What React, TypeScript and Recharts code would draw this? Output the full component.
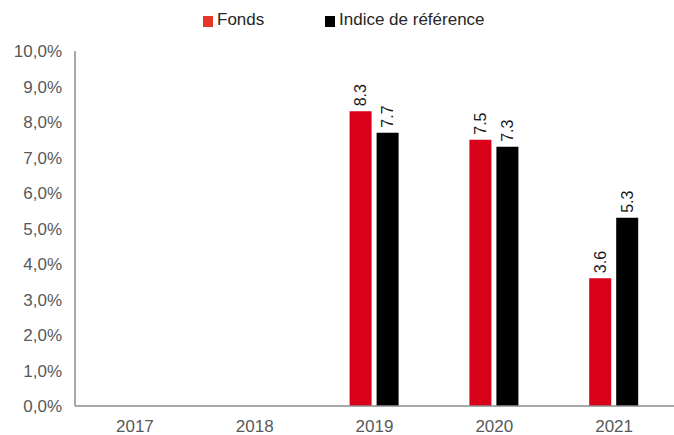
import React from "react";
import { BarChart, Bar, XAxis, YAxis, LabelList } from "recharts";

const years = ["2017", "2018", "2019", "2020", "2021"];
const fonds: (number | null)[] = [null, null, 8.3, 7.5, 3.6];
const indice: (number | null)[] = [null, null, 7.7, 7.3, 5.3];
const yTicks = [0, 1, 2, 3, 4, 5, 6, 7, 8, 9, 10];

const data = years.map((y, i) => ({ year: y, fonds: fonds[i], indice: indice[i] }));

const FONT = "'Liberation Sans', Arial, sans-serif";
const RED = "#d9001a";
const BLACK = "#000000";

const RotLabel = (props: any) => {
  const { x, y, width, value } = props;
  if (value == null) return null;
  const cx = x + width / 2;
  const cy = y - 5;
  return (
    <text
      x={cx}
      y={cy}
      transform={`rotate(-90, ${cx}, ${cy})`}
      textAnchor="start"
      dominantBaseline="central"
      fontFamily={FONT}
      fontSize={16}
      fill="#1a1a1a"
    >
      {Number(value).toFixed(1)}
    </text>
  );
};

const LegendBox = () => (
  <div style={{ position: "absolute", left: 0, top: 8, width: 674, height: 30, fontFamily: FONT, fontSize: 17, color: "#262626" }}>
    <div style={{ position: "absolute", left: 203, top: 8, width: 10, height: 11, background: "#e2372a" }} />
    <div style={{ position: "absolute", left: 217, top: 2, lineHeight: "20px" }}>Fonds</div>
    <div style={{ position: "absolute", left: 325, top: 8, width: 10, height: 11, background: BLACK }} />
    <div style={{ position: "absolute", left: 339, top: 2, lineHeight: "20px" }}>Indice de référence</div>
  </div>
);

export default function App() {
  return (
    <div style={{ position: "absolute", left: 0, top: 0, width: 674, height: 435, background: "#fff" }}>
      <BarChart
        width={674}
        height={435}
        data={data}
        margin={{ top: 51, right: 0, bottom: 0, left: 0 }}
        barSize={22}
        barGap={5}
      >
        <XAxis
          dataKey="year"
          height={29}
          tickLine={false}
          tickSize={0}
          tickMargin={14}
          axisLine={{ stroke: "#8c8c8c", strokeWidth: 1.5 }}
          tick={{ fill: "#595959", fontSize: 17, fontFamily: FONT }}
        />
        <YAxis
          width={75}
          domain={[0, 10]}
          ticks={yTicks}
          tickFormatter={(v: number) => v.toFixed(1).replace(".", ",") + "%"}
          tickLine={false}
          tickSize={0}
          tickMargin={13}
          axisLine={{ stroke: "#8c8c8c", strokeWidth: 1.5 }}
          tick={{ fill: "#595959", fontSize: 17, fontFamily: FONT }}
          interval={0}
        />
        <Bar dataKey="fonds" fill={RED} isAnimationActive={false}>
          <LabelList dataKey="fonds" content={<RotLabel />} />
        </Bar>
        <Bar dataKey="indice" fill={BLACK} isAnimationActive={false}>
          <LabelList dataKey="indice" content={<RotLabel />} />
        </Bar>
      </BarChart>
      <LegendBox />
    </div>
  );
}
